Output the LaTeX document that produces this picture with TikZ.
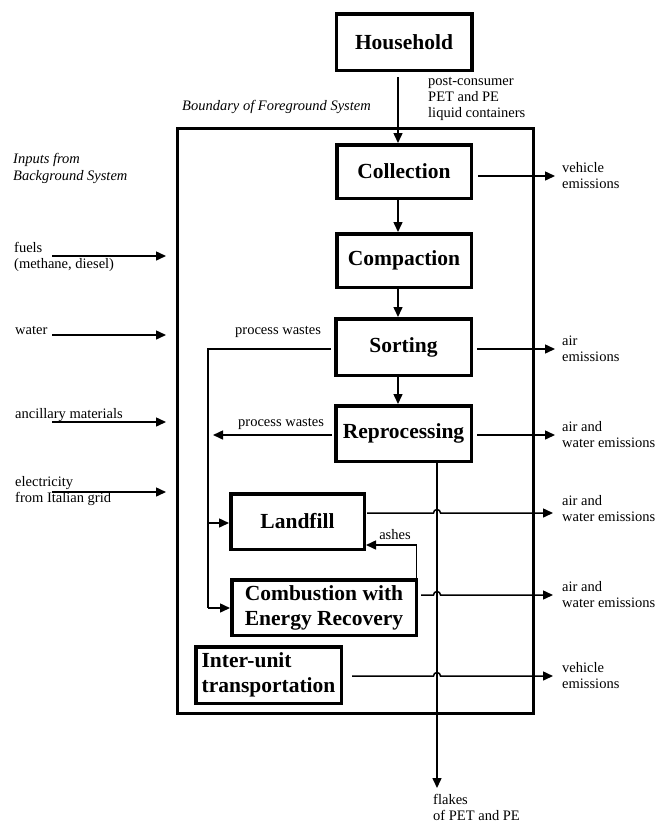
\documentclass[tikz,border=0pt]{standalone}
\usepackage{fontspec}
\setmainfont{Liberation Serif}
\usetikzlibrary{arrows.meta,calc}
\begin{document}
\begin{tikzpicture}[x=1pt,y=-1pt,
  unit/.style={draw, line width=3.5pt, font=\fontsize{21.5}{25}\selectfont\bfseries,
    align=center, inner sep=2pt},
  lbl/.style={font=\fontsize{14.5}{16}\selectfont, align=left, inner sep=0pt, anchor=west},
  ilbl/.style={lbl, font=\fontsize{14.5}{16.5}\selectfont\itshape},
  flow/.style={line width=1.5pt, -{Triangle[length=10pt,width=9pt]}},
  wire/.style={line width=1.5pt}
]
\useasboundingbox (0,0) rectangle (655,825);

% system boundary
\node[draw, line width=3pt, minimum width=356pt, minimum height=585pt, inner sep=0pt]
  (boundary) at (355.5,421) {};
\node[ilbl] (blabel) at (182,107) {Boundary of Foreground System};
\node[ilbl] (inputs) at (13,168.5) {Inputs from\\Background System};

% process units
\node[unit, minimum width=135.5pt, minimum height=56.5pt] (household) at (404,42) {Household};
\node[unit, minimum width=134.5pt, minimum height=53.5pt] (collection) at (404,171.5) {Collection};
\node[unit, minimum width=134.5pt, minimum height=53.5pt] (compaction) at (404,260.5) {Compaction};
\node[unit, minimum width=135.5pt, minimum height=56.5pt] (sorting) at (403.5,347) {Sorting};
\node[unit, minimum width=135.5pt, minimum height=55.5pt] (reprocessing) at (403.5,433.5) {Reprocessing};
\node[unit, minimum width=133.5pt, minimum height=55.5pt] (landfill) at (297.5,521.5) {Landfill};
\node[unit, minimum width=184.5pt, minimum height=55.5pt] (combustion) at (324,607.5) {Combustion with\\Energy Recovery};
\node[unit, minimum width=145.5pt, minimum height=56.5pt, align=left, inner sep=1pt] (interunit) at (268.5,675) {Inter-unit\\transportation};

% main chain
\node[lbl] (post) at (428,99) {post-consumer\\PET and PE\\liquid containers};
\draw[flow] ([xshift=-6pt,yshift=-5pt]household.south) -- ([xshift=-6pt]collection.north);
\draw[flow] ([xshift=-6pt]collection.south) -- ([xshift=-6pt]compaction.north);
\draw[flow] ([xshift=-6pt]compaction.south) -- ([xshift=-5.5pt]sorting.north);
\draw[flow] ([xshift=-5.5pt]sorting.south) -- ([xshift=-5.5pt]reprocessing.north);

% emissions
\node[lbl] (e1) at (562,176) {vehicle\\emissions};
\node[lbl] (e2) at (562,349) {air\\emissions};
\node[lbl] (e3) at (562,435) {air and\\water emissions};
\node[lbl] (e4) at (562,509) {air and\\water emissions};
\node[lbl] (e5) at (562,594.5) {air and\\water emissions};
\node[lbl] (e6) at (562,675.5) {vehicle\\emissions};

\draw[flow] ([xshift=5pt,yshift=-4.5pt]collection.east) -- ([xshift=-7pt]e1.west);
\draw[flow] ([xshift=4pt,yshift=-2pt]sorting.east) -- ([xshift=-7pt]e2.west);
\draw[flow] ([xshift=4pt,yshift=-1.5pt]reprocessing.east) -- ([xshift=-7pt]e3.west);

% flakes output
\coordinate (fl) at (437,788);
\node[lbl] (flakes) at (433,807) {flakes\\of PET and PE};
\draw[flow] ([xshift=33.5pt]reprocessing.south) -- (fl);

% lines hopping over the flakes line
\coordinate (hopl) at (433.5,0);
\coordinate (t4) at (553,513);
\coordinate (t5) at (553,595);
\coordinate (t6) at (553,676);
\draw[flow] ([xshift=1pt,yshift=8.5pt]landfill.east) coordinate (s4)
  -- (s4 -| hopl) arc[start angle=180, end angle=0, radius=3.5pt] -- (t4);
\draw[flow] ([xshift=3pt,yshift=12.5pt]combustion.east) coordinate (s5)
  -- (s5 -| hopl) arc[start angle=180, end angle=0, radius=3.5pt] -- (t5);
\draw[flow] ([xshift=9pt,yshift=-1pt]interunit.east) coordinate (s6)
  -- (s6 -| hopl) arc[start angle=180, end angle=0, radius=3.5pt] -- (t6);

% process wastes
\coordinate (bus) at (208,349);
\coordinate (busend) at (208,608);
\coordinate (pw2) at (213,435);
\node[lbl] (pwl1) at (235,332) {process wastes};
\node[lbl] (pwl2) at (238,423.5) {process wastes};
\draw[wire] ([xshift=-3pt,yshift=-2pt]sorting.west) -- (bus) -- (busend);
\draw[flow] ([yshift=-1.5pt]landfill.west -| bus) -- ([yshift=-1.5pt]landfill.west);
\draw[flow] (busend) -- (busend -| combustion.west);
\draw[flow] ([xshift=-2pt,yshift=-1.5pt]reprocessing.west) -- (pw2);

% ashes
\node[lbl, anchor=center] (ashl) at (395,535) {ashes};
\draw[flow] ([xshift=-1.5pt]combustion.north east) |- ([yshift=-23.5pt]landfill.east);

% inputs from background system
\node[lbl] (i1) at (14,257) {fuels\\(methane, diesel)};
\node[lbl] (i2) at (15,330) {water};
\node[lbl] (i3) at (15,415) {ancillary materials};
\node[lbl] (i4) at (15,491.5) {electricity\\from Italian grid};
\coordinate (a1) at (52,256);
\coordinate (a2) at (52,335);
\coordinate (a3) at (52,422);
\coordinate (a4) at (52,492);
\foreach \a in {a1,a2,a3,a4}
  \draw[flow] (\a) -- ([xshift=-10pt]boundary.west |- \a);
\end{tikzpicture}
\end{document}
